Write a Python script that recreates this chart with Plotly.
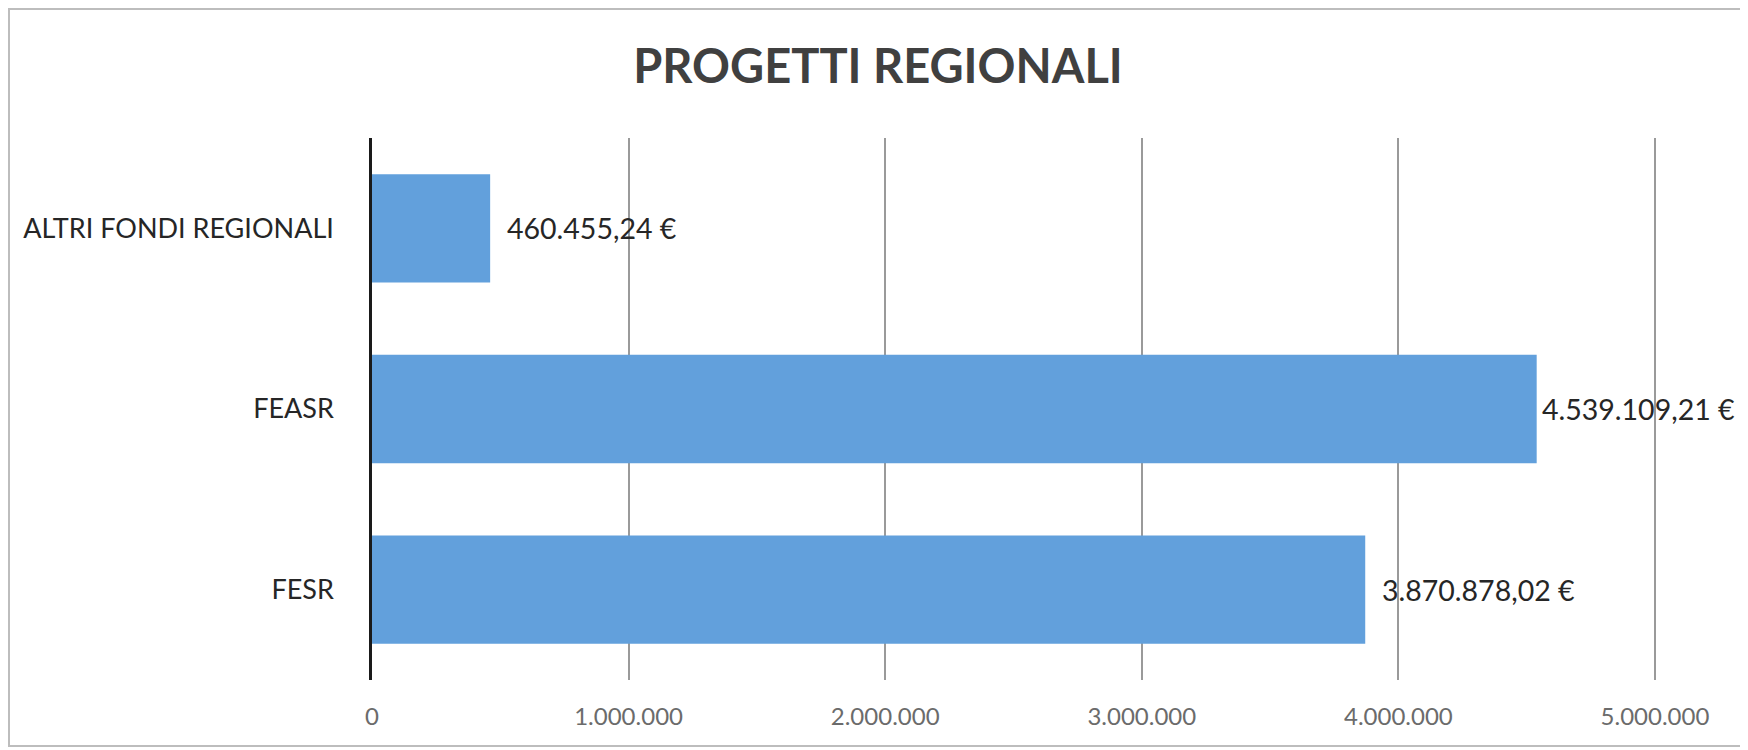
import plotly.graph_objects as go

categories = ["FESR", "FEASR", "ALTRI FONDI REGIONALI"]
values = [3870878.02, 4539109.21, 460455.24]
tick_values = [0, 1000000, 2000000, 3000000, 4000000, 5000000]
title_text = "PROGETTI REGIONALI"

# page body adds an 8px offset, so the figure is a little smaller
W, H = 1740, 742
ML, MR, MT, MB = 364, 91, 130, 70
FONT = "Lato, 'Open Sans', sans-serif"

fig = go.Figure()
fig.add_trace(go.Bar(
    y=categories, x=values, orientation="h",
    marker=dict(color="#62A0DC", line=dict(width=0)),
    hoverinfo="skip",
))

vmax = max(values)
for c, v in zip(categories, values):
    fig.add_annotation(
        x=v, y=c, xref="x", yref="y",
        text=f"{v:,.2f}".replace(",", "X").replace(".", ",").replace("X", ".") + " €",
        showarrow=False, xanchor="left", yanchor="middle",
        xshift=3 if v == vmax else 15,
        font=dict(family=FONT, size=28.5, color="#262626"),
    )

pw = W - ML - MR
ph = H - MT - MB
x0 = (1 - ML) / pw
x1 = (W - 6 - ML) / pw
y0 = (H - MB - 738) / ph
y1 = (H - MB - 1) / ph
fig.add_shape(type="rect", xref="paper", yref="paper", x0=x0, x1=x1, y0=y0, y1=y1,
              line=dict(color="#bdbdbd", width=2), fillcolor="rgba(0,0,0,0)", layer="below")

fig.update_layout(
    width=W, height=H,
    margin=dict(l=ML, r=MR, t=MT, b=MB, pad=0, autoexpand=False),
    paper_bgcolor="white", plot_bgcolor="white",
    separators=",.",
    bargap=0.40,
    showlegend=False,
    title=dict(text=f"<b>{title_text}</b>", x=0.5, xanchor="center", y=1 - 59 / H, yanchor="middle",
               font=dict(family=FONT, size=47, color="#404040")),
    xaxis=dict(range=[0, 5008000], tickvals=tick_values, tickformat=",d",
               showgrid=True, gridcolor="#9a9a9a", gridwidth=1.5,
               zeroline=False, showline=False, ticks="",
               tickfont=dict(family=FONT, size=24, color="#6b6b6b"),
               ticklabelstandoff=20, automargin=False),
    yaxis=dict(categoryorder="array", categoryarray=categories,
               showline=True, linecolor="#1a1a1a", linewidth=2.5,
               showgrid=False, ticks="", ticklabelstandoff=30, automargin=False,
               tickfont=dict(family=FONT, size=27, color="#262626")),
)

fig.write_html("out.html")
